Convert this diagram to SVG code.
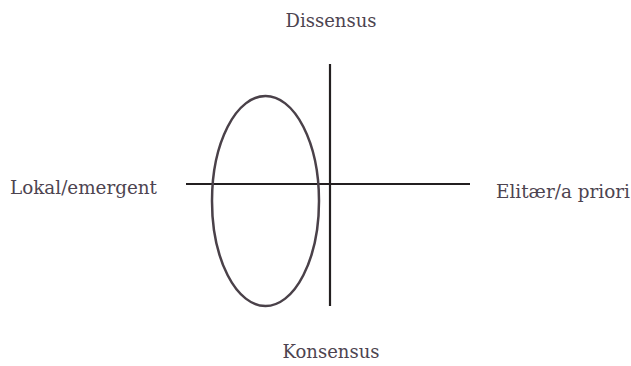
<svg xmlns="http://www.w3.org/2000/svg" width="631" height="366" viewBox="0 0 631 366">
<style>
.lbl{font-family:"DejaVu Serif","Liberation Serif",serif;font-size:18px;fill:#4d4450}
.axis{stroke:#231f20;stroke-width:2.2;fill:none}
.ell{stroke:#4a4149;stroke-width:2.5;fill:none}
</style>
<rect width="631" height="366" fill="#ffffff"/>
<g id="connectors">
<line class="axis" x1="330" y1="64" x2="330" y2="306"/>
<line class="axis" x1="186" y1="184" x2="470" y2="184"/>
</g>
<g id="ellipse"><ellipse class="ell" cx="265.5" cy="201" rx="53.5" ry="105"/></g>
<g id="dissensus"><text class="lbl" x="331" y="27" text-anchor="middle">Dissensus</text></g>
<g id="konsensus"><text class="lbl" x="331" y="358" text-anchor="middle">Konsensus</text></g>
<g id="lokal"><text class="lbl" x="10" y="194" textLength="147" lengthAdjust="spacingAndGlyphs">Lokal/emergent</text></g>
<g id="elitaer"><text class="lbl" x="496" y="198" textLength="134" lengthAdjust="spacingAndGlyphs">Elitær/a priori</text></g>
</svg>
